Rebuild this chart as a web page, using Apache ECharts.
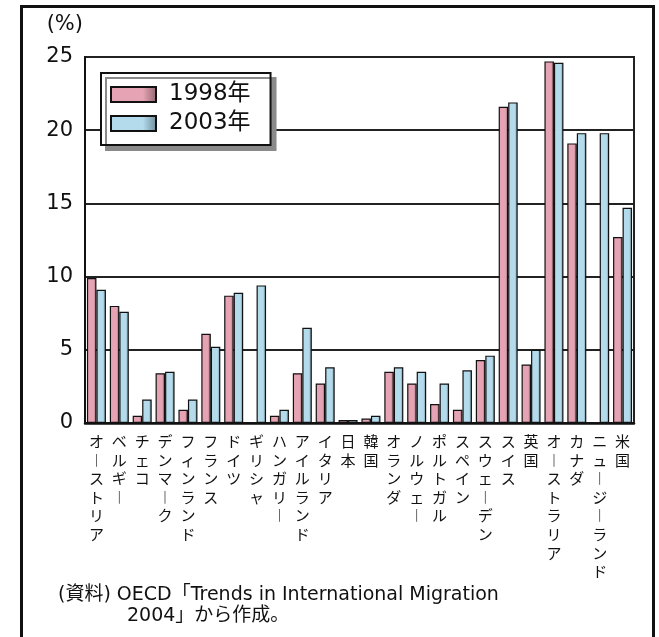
<!DOCTYPE html>
<html>
<head>
<meta charset="utf-8">
<script src="https://cdn.jsdelivr.net/npm/echarts@6/dist/echarts.min.js"></script>
<style>
  html, body { margin: 0; padding: 0; background: #ffffff; }
  #chart { width: 659px; height: 637px; }
</style>
</head>
<body>
<div id="chart"></div>
<script>
// Countries (foreign population share, %)
const countries = ['オーストリア','ベルギー','チェコ','デンマーク','フィンランド','フランス','ドイツ','ギリシャ','ハンガリー','アイルランド','イタリア','日本','韓国','オランダ','ノルウェー','ポルトガル','スペイン','スウェーデン','スイス','英国','オーストラリア','カナダ','ニュージーランド','米国'];
const seriesNames = ['1998年', '2003年'];
const values1998 = [9.9, 8.0, 0.5, 3.4, 0.9, 6.1, 8.7, null, 0.5, 3.4, 2.7, 0.2, 0.3, 3.5, 2.7, 1.3, 0.9, 4.3, 21.6, 4.0, 24.7, 19.1, null, 12.7];
const values2003 = [9.1, 7.6, 1.6, 3.5, 1.6, 5.2, 8.9, 9.4, 0.9, 6.5, 3.8, 0.2, 0.5, 3.8, 3.5, 2.7, 3.6, 4.6, 21.9, 5.0, 24.6, 19.8, 19.8, 14.7];
const yTicks = [0, 5, 10, 15, 20, 25];
const unitLabel = '(%)';
const sourceLines = ['(資料) OECD「Trends in International Migration', '2004」から作成。'];

const FONT = '"DejaVu Sans", "Noto Sans CJK JP", sans-serif';
const JP_FONT = '"Noto Sans CJK JP", "DejaVu Sans", sans-serif';

function shaded(base, dark) {
  return new echarts.graphic.LinearGradient(0, 0, 1, 0, [
    { offset: 0, color: base },
    { offset: 0.7, color: base },
    { offset: 1, color: dark }
  ]);
}

// vertical (tategaki) label: one character per line, long-vowel mark turned upright
function verticalText(s) {
  return Array.from(s).map(c => (c === 'ー' ? '︱' : c)).join('\n');
}

const chart = echarts.init(document.getElementById('chart'), null, { renderer: 'canvas' });

chart.setOption({
  backgroundColor: '#ffffff',
  animation: false,
  grid: {
    left: 85, top: 57, right: 25, bottom: 214,
    show: true, borderColor: '#222', borderWidth: 2, backgroundColor: 'transparent'
  },
  legend: {
    orient: 'vertical',
    left: 101, top: 73,
    padding: [10, 20, 10, 9],
    itemWidth: 45, itemHeight: 15, itemGap: 6,
    backgroundColor: '#ffffff',
    borderColor: '#111', borderWidth: 2,
    shadowColor: '#8a8a8a', shadowBlur: 0, shadowOffsetX: 5, shadowOffsetY: 5,
    textStyle: { fontFamily: FONT, fontSize: 23, color: '#111', lineHeight: 22, padding: [0, 0, 0, 8] },
    data: seriesNames.map(n => ({ name: n, icon: 'rect' }))
  },
  xAxis: {
    type: 'category',
    data: countries,
    axisLine: { show: true, lineStyle: { color: '#111', width: 2.5 } },
    axisTick: { show: false },
    axisLabel: {
      interval: 0,
      margin: 9,
      fontFamily: JP_FONT,
      fontSize: 15,
      lineHeight: 18.6,
      color: '#111',
      verticalAlign: 'top',
      formatter: verticalText
    }
  },
  yAxis: {
    type: 'value',
    min: yTicks[0], max: yTicks[yTicks.length - 1], interval: 5,
    name: unitLabel,
    nameLocation: 'end',
    nameGap: 32,
    nameTextStyle: { fontFamily: FONT, fontSize: 21, color: '#111', align: 'right', verticalAlign: 'middle', padding: [0, 2, 0, 0] },
    axisLine: { show: true, lineStyle: { color: '#111', width: 2 } },
    axisTick: { show: false },
    axisLabel: { fontFamily: FONT, fontSize: 21, color: '#111', margin: 12 },
    splitLine: { show: true, lineStyle: { color: '#222', width: 2 } }
  },
  series: [
    {
      name: seriesNames[0],
      type: 'bar',
      data: values1998,
      barWidth: 9.5,
      barGap: '0%',
      itemStyle: { color: shaded('#e6a3b3', '#8f6670'), borderColor: '#111', borderWidth: 1.2 }
    },
    {
      name: seriesNames[1],
      type: 'bar',
      data: values2003,
      barWidth: 9.5,
      itemStyle: { color: shaded('#b3dbec', '#6f8c99'), borderColor: '#111', borderWidth: 1.2 }
    }
  ],
  graphic: [
    {
      type: 'rect',
      shape: { x: 21.5, y: 6.5, width: 632, height: 640 },
      style: { fill: 'none', stroke: '#111', lineWidth: 3 },
      silent: true, z: 100
    },
    {
      type: 'text', left: 58, top: 586,
      style: { text: sourceLines[0], font: '19px ' + FONT, fill: '#111' }
    },
    {
      type: 'text', left: 127, top: 607,
      style: { text: sourceLines[1], font: '19px ' + FONT, fill: '#111' }
    }
  ]
});
</script>
</body>
</html>
